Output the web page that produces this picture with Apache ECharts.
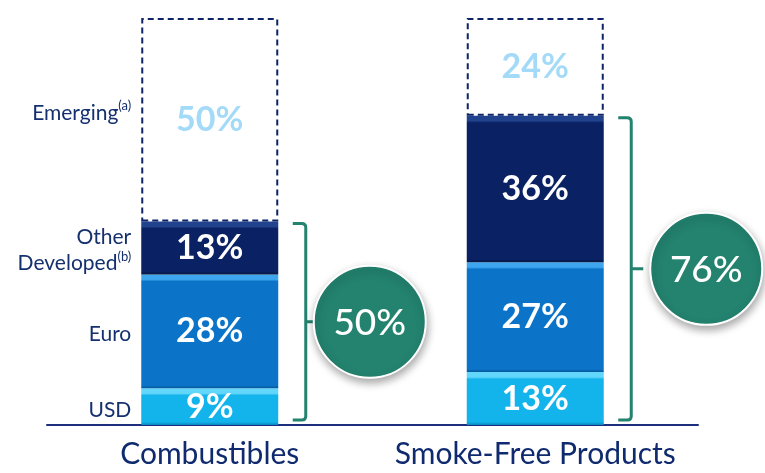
<!DOCTYPE html>
<html>
<head>
<meta charset="utf-8">
<style>
html,body{margin:0;padding:0;background:#fff;}
#main{width:765px;height:473px;}
</style>
<script src="https://cdn.jsdelivr.net/npm/echarts@6/dist/echarts.min.js"></script>
</head>
<body>
<div id="main"></div>
<script>
const categories = ['Combustibles', 'Smoke-Free Products'];
const usd = [9, 13];
const euro = [28, 27];
const otherDeveloped = [13, 36];
const emerging = [50, 24];
const segmentLabels = ['USD', 'Euro', 'Other\nDeveloped{sup|(b)}', 'Emerging{sup|(a)}'];

const GRID = {left: 47, right: 67, top: 18, bottom: 48};
const plotH = 473 - GRID.top - GRID.bottom;
const pxPerUnit = plotH / 100;
const nameShift = [4, 3, 2, -7];

function bevel(light, main, dark) {
  return function (params) {
    const h = Math.max(params.value * pxPerUnit, 1);
    const a = Math.min(5 / h, 0.3), b = Math.min(7 / h, 0.35), c = 1 - Math.min(3 / h, 0.1);
    return new echarts.graphic.LinearGradient(0, 0, 0, 1, [
      {offset: 0, color: light}, {offset: a, color: light},
      {offset: b, color: main}, {offset: c, color: main},
      {offset: 1, color: dark}
    ]);
  };
}

const developedTotals = categories.map((c, i) => usd[i] + euro[i] + otherDeveloped[i]);
const bracketData = categories.map((c, i) => [i, developedTotals[i]]);
const circleOffsets = [160, 171];

const stacks = [usd, euro, otherDeveloped, emerging];
const nameData = [];
let acc = 0;
stacks.forEach((arr, k) => { nameData.push([0, acc, acc + arr[0], k]); acc += arr[0]; });

const labelStyle = {
  show: true, position: 'inside', color: '#fff',
  fontFamily: 'Lato', fontWeight: 'bold', fontSize: 34,
  formatter: p => p.value + '%'
};

const chart = echarts.init(document.getElementById('main'));
chart.setOption({
  animation: false,
  grid: GRID,
  xAxis: {
    type: 'category', data: categories,
    axisLine: {lineStyle: {color: '#1c2f7c', width: 2}},
    axisTick: {show: false},
    axisLabel: {color: '#0f2a6e', fontFamily: 'Lato', fontSize: 30, margin: 14,
      interval: 0, hideOverlap: false}
  },
  yAxis: {type: 'value', min: 0, max: 100, show: false},
  series: [
    {name: 'USD', type: 'bar', stack: 's', barWidth: 137, data: usd,
      itemStyle: {color: bevel('#63d6fb', '#13b3ec', '#0a86c0')}, label: labelStyle},
    {name: 'Euro', type: 'bar', stack: 's', barWidth: 137, data: euro,
      itemStyle: {color: bevel('#3ea6ee', '#0b74c8', '#06559a')}, label: labelStyle},
    {name: 'Other Developed', type: 'bar', stack: 's', barWidth: 137, data: otherDeveloped,
      itemStyle: {color: bevel('#21438e', '#0a2263', '#061640')}, label: labelStyle},
    {name: 'Emerging', type: 'bar', stack: 's', barWidth: 137, data: emerging,
      itemStyle: {color: 'rgba(255,255,255,0)', borderColor: '#0d2466', borderWidth: 2, borderType: [6, 4]},
      label: Object.assign({}, labelStyle, {color: '#a3daf7'})},
    {
      type: 'custom', data: nameData, z: 5,
      renderItem: function (params, api) {
        const idx = api.value(0);
        const k = api.value(3);
        const mid = (api.value(1) + api.value(2)) / 2;
        const p = api.coord([idx, mid]);
        const x = p[0] - 137 / 2 - 10;
        return {
          type: 'text', x: x, y: p[1] + nameShift[k],
          style: {
            text: segmentLabels[k], align: 'right', verticalAlign: 'middle',
            fill: '#14306e', font: '21px Lato', lineHeight: 26,
            rich: {sup: {fontSize: 13, fontFamily: 'Lato', fill: '#14306e', verticalAlign: 'top', padding: [0, 0, 8, 0]}}
          }
        };
      }
    },
    {
      type: 'custom', data: bracketData, z: 6,
      renderItem: function (params, api) {
        const idx = api.value(0);
        const base = api.coord([idx, 0]);
        const top = api.coord([idx, api.value(1)]);
        const xv = base[0] + 96;
        const yt = top[1] + 2, yb = base[1] - 5, ym = (yt + yb) / 2;
        const cx = base[0] + circleOffsets[idx];
        const path = 'M' + (xv - 13) + ' ' + yt + ' L' + (xv - 4) + ' ' + yt +
          ' Q' + xv + ' ' + yt + ' ' + xv + ' ' + (yt + 4) +
          ' L' + xv + ' ' + (yb - 4) + ' Q' + xv + ' ' + yb + ' ' + (xv - 4) + ' ' + yb +
          ' L' + (xv - 13) + ' ' + yb + ' M' + xv + ' ' + ym + ' L' + (xv + 12) + ' ' + ym;
        return {
          type: 'group',
          children: [
            {type: 'path', shape: {pathData: path}, style: {fill: 'none', stroke: '#23836f', lineWidth: 3}},
            {type: 'circle', shape: {cx: cx, cy: ym, r: 56},
              style: {fill: '#23836f', stroke: '#fff', lineWidth: 2,
                shadowBlur: 8, shadowColor: 'rgba(0,0,0,0.35)', shadowOffsetX: 1, shadowOffsetY: 4}},
            {type: 'text', x: cx, y: ym + 1,
              style: {text: api.value(1) + '%', align: 'center', verticalAlign: 'middle',
                fill: '#fff', font: '500 37px Lato'}}
          ]
        };
      }
    }
  ]
});
</script>
</body>
</html>
